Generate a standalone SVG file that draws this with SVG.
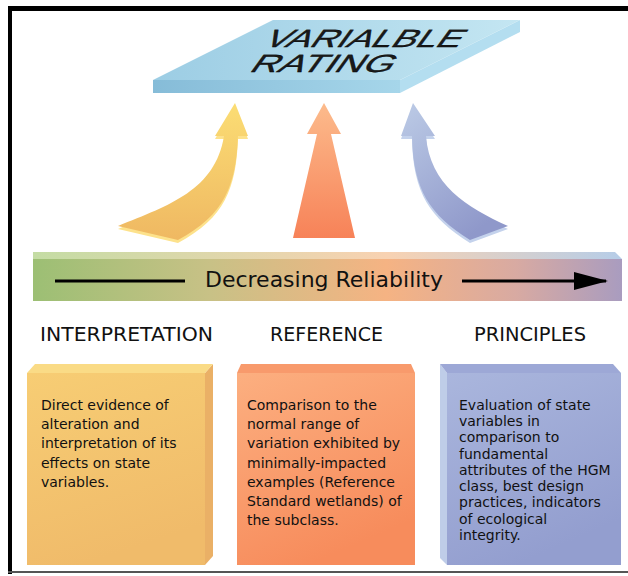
<svg xmlns="http://www.w3.org/2000/svg" width="628" height="576" viewBox="0 0 628 576">
<style>
.heading{font-family:"DejaVu Sans","Liberation Sans",sans-serif;font-size:19px;fill:#111;text-anchor:middle}
.body{font-family:"DejaVu Sans","Liberation Sans",sans-serif;font-size:14px;fill:#111}
.bar{font-family:"DejaVu Sans","Liberation Sans",sans-serif;font-size:22px;fill:#111;text-anchor:middle}
.rating{font-family:"Liberation Sans","DejaVu Sans",sans-serif;font-size:25px;fill:#1a1a1a;stroke:#000;stroke-width:0.3}
</style>
<defs>
<linearGradient id="platTop" x1="0" y1="0" x2="1" y2="0">
<stop offset="0" stop-color="#9ccde4"/><stop offset="1" stop-color="#c4e6f2"/>
</linearGradient>
<linearGradient id="platFront" x1="0" y1="0" x2="1" y2="0">
<stop offset="0" stop-color="#86bcd8"/><stop offset="1" stop-color="#a6d6ea"/>
</linearGradient>
<linearGradient id="yArrow" x1="0" y1="0" x2="0" y2="1">
<stop offset="0" stop-color="#fbdd74"/><stop offset="1" stop-color="#efb862"/>
</linearGradient>
<linearGradient id="oArrow" x1="0" y1="0" x2="0" y2="1">
<stop offset="0" stop-color="#fcbb8c"/><stop offset="1" stop-color="#f78258"/>
</linearGradient>
<linearGradient id="bArrow" x1="0" y1="0" x2="0.6" y2="1">
<stop offset="0" stop-color="#bccbe6"/><stop offset="1" stop-color="#8f98ca"/>
</linearGradient>
<linearGradient id="barFront" x1="0" y1="0" x2="1" y2="0">
<stop offset="0" stop-color="#9cbf74"/><stop offset="0.3" stop-color="#c8c186"/>
<stop offset="0.6" stop-color="#f5b383"/><stop offset="0.82" stop-color="#d8aaa2"/>
<stop offset="1" stop-color="#a99cbf"/>
</linearGradient>
<linearGradient id="barTop" x1="0" y1="0" x2="1" y2="0">
<stop offset="0" stop-color="#c4dca4"/><stop offset="0.6" stop-color="#f8d2b2"/>
<stop offset="1" stop-color="#b6cde8"/>
</linearGradient>
<linearGradient id="yBox" x1="0" y1="0" x2="0.3" y2="1">
<stop offset="0" stop-color="#f7cd74"/><stop offset="1" stop-color="#f0bb6a"/>
</linearGradient>
<linearGradient id="oBox" x1="0" y1="0" x2="0.4" y2="1">
<stop offset="0" stop-color="#fcaf80"/><stop offset="1" stop-color="#f78c5c"/>
</linearGradient>
<linearGradient id="bBox" x1="0" y1="0" x2="0.4" y2="1">
<stop offset="0" stop-color="#aab6dd"/><stop offset="1" stop-color="#939ecf"/>
</linearGradient>
<marker id="barHead" markerWidth="36" markerHeight="20" refX="32" refY="10" orient="auto" markerUnits="userSpaceOnUse">
<path d="M0,1 L34,10 L0,19 Z" fill="#000"/>
</marker>
</defs>

<g id="frame">
<rect x="8" y="6" width="620" height="5" fill="#000"/>
<rect x="8" y="6" width="4" height="568" fill="#000"/>
<rect x="8" y="571" width="620" height="2" fill="#555"/>
</g>

<g id="variable-rating">
<polygon points="400,80 520,20 520,32 400,93" fill="#b4def0"/>
<rect x="153" y="80" width="247" height="13" fill="url(#platFront)"/>
<polygon points="273,20 520,20 400,80 153,80" fill="url(#platTop)"/>
<text class="rating" transform="translate(262,47) skewX(-36)" textLength="196" lengthAdjust="spacingAndGlyphs">VARIALBLE</text>
<text class="rating" transform="translate(248,72) skewX(-36)" textLength="142" lengthAdjust="spacingAndGlyphs">RATING</text>
</g>

<g id="arrows">
<g id="arrow-yellow">
<path d="M235,106 L248,139 L238,139 C236,188 225,218 178,243 L118,229 C170,208 215,193 224,139 L215,139 Z" fill="#fde28c"/>
<path d="M235,103 L248,136 L238,136 C236,185 225,215 178,240 L118,226 C170,205 215,190 224,136 L215,136 Z" fill="url(#yArrow)"/>
</g>
<g id="arrow-orange">
<path d="M324,103 L341,134 L331,134 L355,238 L293,238 L317,134 L307,134 Z" fill="url(#oArrow)"/>
</g>
<g id="arrow-blue">
<path d="M413,106 L435,139 L426,139 C430,188 466,210 508,229 L470,243 C430,218 413,193 412,139 L401,139 Z" fill="#c4d2ec"/>
<path d="M413,103 L435,136 L426,136 C430,185 466,207 508,226 L470,240 C430,215 413,190 412,136 L401,136 Z" fill="url(#bArrow)"/>
</g>
</g>

<g id="reliability-bar">
<polygon points="33,252 615,252 622,259 33,259" fill="url(#barTop)"/>
<rect x="33" y="259" width="589" height="42" fill="url(#barFront)"/>
<line x1="55" y1="281" x2="185" y2="281" stroke="#000" stroke-width="3"/>
<line x1="462" y1="281" x2="606" y2="281" stroke="#000" stroke-width="3" marker-end="url(#barHead)"/>
<text class="bar" x="324" y="287" textLength="238" lengthAdjust="spacingAndGlyphs">Decreasing Reliability</text>
</g>

<g id="heading-interpretation"><text class="heading" x="126.5" y="341" textLength="173" lengthAdjust="spacingAndGlyphs">INTERPRETATION</text></g>
<g id="heading-reference"><text class="heading" x="326.5" y="341" textLength="113" lengthAdjust="spacingAndGlyphs">REFERENCE</text></g>
<g id="heading-principles"><text class="heading" x="530" y="341" textLength="112" lengthAdjust="spacingAndGlyphs">PRINCIPLES</text></g>

<g id="box-interpretation">
<polygon points="205,373 213,364 213,556 205,565" fill="#eab066"/>
<polygon points="27,373 35,364 213,364 205,373" fill="#fadb86"/>
<rect x="27" y="373" width="178" height="192" fill="url(#yBox)"/>
<text class="body">
<tspan x="41" y="410">Direct evidence of</tspan>
<tspan x="41" y="429">alteration and</tspan>
<tspan x="41" y="448">interpretation of its</tspan>
<tspan x="41" y="468">effects on state</tspan>
<tspan x="41" y="487">variables.</tspan>
</text>
</g>

<g id="box-reference">
<polygon points="237,373 241,364 411,364 415,373" fill="#f89a6c"/>
<rect x="237" y="373" width="178" height="192" fill="url(#oBox)"/>
<text class="body">
<tspan x="247" y="410">Comparison to the</tspan>
<tspan x="247" y="429">normal range of</tspan>
<tspan x="247" y="448">variation exhibited by</tspan>
<tspan x="247" y="468">minimally-impacted</tspan>
<tspan x="247" y="487">examples (Reference</tspan>
<tspan x="247" y="506">Standard wetlands) of</tspan>
<tspan x="247" y="525">the subclass.</tspan>
</text>
</g>

<g id="box-principles">
<polygon points="440,364 447,373 447,565 440,558" fill="#bfcde8"/>
<polygon points="440,364 613,364 621,373 447,373" fill="#9da8d6"/>
<rect x="447" y="373" width="174" height="192" fill="url(#bBox)"/>
<text class="body">
<tspan x="459" y="410">Evaluation of state</tspan>
<tspan x="459" y="426">variables in</tspan>
<tspan x="459" y="442">comparison to</tspan>
<tspan x="459" y="459">fundamental</tspan>
<tspan x="459" y="475">attributes of the HGM</tspan>
<tspan x="459" y="491">class, best design</tspan>
<tspan x="459" y="507">practices, indicators</tspan>
<tspan x="459" y="524">of ecological</tspan>
<tspan x="459" y="540">integrity.</tspan>
</text>
</g>
</svg>
